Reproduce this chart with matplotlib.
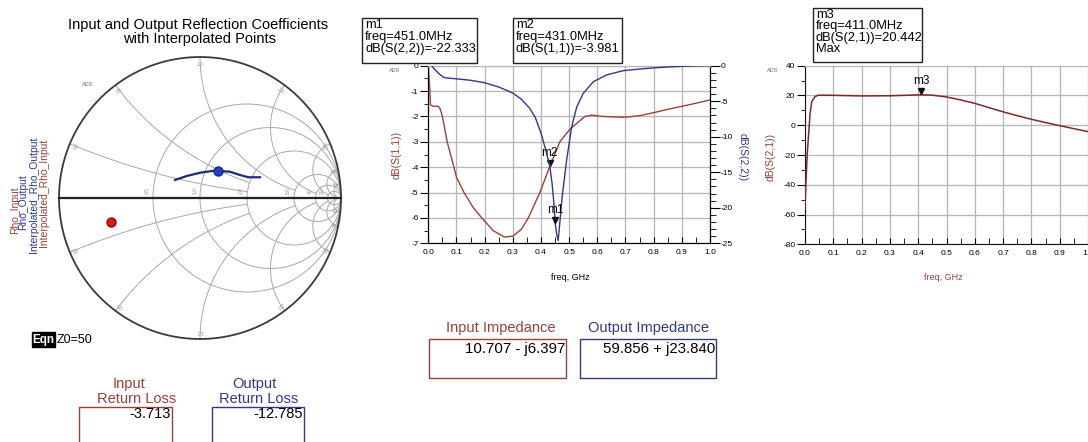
import numpy as np
import matplotlib
matplotlib.use('Agg')
import matplotlib.pyplot as plt
from matplotlib.patches import Rectangle
from matplotlib.ticker import MultipleLocator
import matplotlib.transforms as mtrans

W, H = 1088, 442
plt.rcParams['font.family'] = ['Liberation Sans', 'DejaVu Sans']
plt.rcParams['axes.unicode_minus'] = False

# ---------------- data ----------------
s11_freq = [0.0, 0.004, 0.008, 0.02, 0.035, 0.04, 0.045, 0.05, 0.067, 0.091, 0.10, 0.127,
            0.16, 0.19, 0.23, 0.27, 0.30, 0.33, 0.355, 0.396, 0.431, 0.467, 0.503, 0.556,
            0.58, 0.62, 0.66, 0.70, 0.75, 0.80, 0.85, 0.90, 0.95, 1.0]
s11_db = [0.0, -0.7, -1.55, -1.6, -1.6, -1.65, -1.8, -2.0, -3.0, -4.0, -4.4, -5.0,
          -5.6, -6.0, -6.5, -6.75, -6.72, -6.45, -6.0, -5.0, -3.981, -3.0, -2.5, -2.0,
          -1.95, -2.0, -2.02, -2.03, -1.97, -1.85, -1.72, -1.6, -1.48, -1.35]

s22_freq = [0.012, 0.02, 0.03, 0.04, 0.053, 0.06, 0.10, 0.15, 0.20, 0.25, 0.28, 0.30,
            0.33, 0.36, 0.38, 0.40, 0.415, 0.431, 0.44, 0.445, 0.451, 0.456, 0.461,
            0.466, 0.475, 0.491, 0.509, 0.527, 0.55, 0.586, 0.633, 0.692, 0.75, 0.81,
            0.87, 0.93, 1.0]
s22_db = [0.0, -0.4, -0.8, -1.2, -1.6, -1.7, -1.85, -2.05, -2.4, -3.0, -3.5, -3.85,
          -4.7, -6.0, -7.3, -9.5, -11.6, -14.0, -16.8, -19.0, -22.333, -23.8, -24.6,
          -22.5, -18.5, -13.3, -8.6, -5.8, -3.9, -2.25, -1.3, -0.7, -0.47, -0.28,
          -0.14, -0.05, 0.0]

s21_freq = [0.0, 0.0035, 0.008, 0.013, 0.018, 0.024, 0.035, 0.047, 0.10, 0.20, 0.30,
            0.37, 0.411, 0.45, 0.50, 0.55, 0.60, 0.65, 0.70, 0.75, 0.80, 0.85, 0.90,
            0.95, 1.0]
s21_db = [-56.0, -37.0, -19.0, -5.5, 8.0, 15.8, 19.2, 20.2, 20.1, 19.7, 19.8,
          20.2, 20.442, 20.2, 19.0, 17.0, 14.7, 11.8, 9.0, 6.4, 4.0, 1.8, -0.3,
          -2.3, -4.3]

rho_out_interp_re = [-0.177, -0.094, 0.0, 0.095, 0.130, 0.213, 0.284, 0.343, 0.426]
rho_out_interp_im = [0.128, 0.156, 0.179, 0.193, 0.193, 0.186, 0.163, 0.147, 0.147]

z0 = 50.0
z_in = complex(10.707, -6.397)
z_out = complex(59.856, 23.840)
input_return_loss = -3.713
output_return_loss = -12.785

m1 = dict(name='m1', freq=0.451, val=-22.333)
m2 = dict(name='m2', freq=0.431, val=-3.981)
m3 = dict(name='m3', freq=0.411, val=20.442)

x_ticks = [0.0, 0.1, 0.2, 0.3, 0.4, 0.5, 0.6, 0.7, 0.8, 0.9, 1.0]

RED = '#9c3f38'
NAVY = '#2e3a86'
GRID = '#b5b5b5'

def fx(x):
    return x / W

def fy(y):
    return 1 - y / H

fig = plt.figure(figsize=(W / 100, H / 100), dpi=100)

# ---------------- Smith chart ----------------
cx, cy, R = 200, 198, 141
half = 143
axs = fig.add_axes([fx(cx - half), fy(cy + half), 2 * half / W, 2 * half / H])
lim = half / R
axs.set_xlim(-lim, lim)
axs.set_ylim(-lim, lim)
axs.axis('off')

def gam(z):
    return (z - 1) / (z + 1)

xs_full = np.concatenate([-np.logspace(4, -4, 600), [0.0], np.logspace(-4, 4, 600)])
for r in [0.5, 1.0, 2.0, 5.0, 10.0, 20.0]:
    g = gam(r + 1j * xs_full)
    axs.plot(g.real, g.imag, color='#a8a8a8', lw=0.7)
for xv, rmax in [(0.2, 2.0), (0.5, 2.0), (1.0, 5.0), (2.0, 10.0), (5.0, 20.0), (10.0, 50.0), (20.0, 50.0)]:
    rr = np.concatenate([[0.0], np.logspace(-4, np.log10(rmax), 500)])
    for s in (1, -1):
        g = gam(rr + 1j * s * xv)
        axs.plot(g.real, g.imag, color='#a8a8a8', lw=0.7)
t = np.linspace(0, 2 * np.pi, 600)
axs.plot(np.cos(t), np.sin(t), color='#3a3a3a', lw=1.3)
axs.plot([-1, 1], [0, 0], color='#222222', lw=1.6)

# small grid labels
for r, lab in [(0.5, '0.5'), (1.0, '1.0'), (2.0, '2.0'), (5.0, '5.0'), (10.0, '10'), (20.0, '20')]:
    g = gam(r)
    axs.text(g.real - 0.02, 0.03, lab, fontsize=3.5, color='#909090', rotation=90,
             ha='right', va='bottom')
for xv, lab in [(0.2, '0.2'), (0.5, '0.5'), (1.0, '1.0'), (2.0, '2.0'), (5.0, '5.0'), (10.0, '10'), (20.0, '20')]:
    for s in (1, -1):
        g = gam(1j * s * xv)
        ang = np.degrees(np.arctan2(g.imag, g.real))
        axs.text(g.real * 0.95, g.imag * 0.95, lab, fontsize=3.5, color='#909090',
                 rotation=ang - 90, ha='center', va='center')

axs.plot(rho_out_interp_re, rho_out_interp_im, color='#1f2a78', lw=1.6)
rho_in = (z_in - z0) / (z_in + z0)
rho_out = (z_out - z0) / (z_out + z0)
axs.plot([rho_out.real], [rho_out.imag], 'o', color='#1f3fc8', ms=6.5, mec='#1a2a90')
axs.plot([rho_in.real], [rho_in.imag], 'o', color='#e01515', ms=6.5, mec='#8a1010')

fig.text(fx(198), fy(25), 'Input and Output Reflection Coefficients', fontsize=10.5,
         ha='center', va='center')
fig.text(fx(200), fy(38.5), 'with Interpolated Points', fontsize=10.5, ha='center', va='center')
fig.text(fx(88), fy(85), 'ADS', fontsize=4, color='#707070', ha='center', va='center')

for xp, yp, txt, col in [(15, 210, 'Rho_Input', RED), (23, 202, 'Rho_Output', NAVY),
                         (34, 195, 'Interpolated_Rho_Output', NAVY),
                         (44, 193, 'Interpolated_Rho_Input', RED)]:
    fig.text(fx(xp), fy(yp), txt, fontsize=7.5, color=col, rotation=90,
             ha='center', va='center')

# ---------------- middle plot ----------------
L, Rr, T, B = 428.3, 710, 65.7, 243.3
axm = fig.add_axes([fx(L), fy(B), (Rr - L) / W, (B - T) / H])
axm.plot(s11_freq, s11_db, color=RED, lw=1.0, zorder=3)
axm.set_xlim(0, 1)
axm.set_ylim(-7, 0)
axm.set_xticks(x_ticks)
axm.set_xticklabels(['%.1f' % v for v in x_ticks])
axm.xaxis.set_minor_locator(MultipleLocator(0.05))
axm.yaxis.set_major_locator(MultipleLocator(1))
axm.yaxis.set_minor_locator(MultipleLocator(0.5))
axm.grid(True, which='major', color=GRID, lw=0.9)
axm.tick_params(axis='x', which='both', direction='in', length=4, labelsize=6, pad=4)
axm.tick_params(axis='y', which='major', direction='out', length=6, labelsize=6, pad=1)
axm.tick_params(axis='y', which='minor', direction='out', length=3)
for s in ['left', 'bottom', 'right']:
    axm.spines[s].set_color('#111111')
axm.spines['top'].set_color(GRID)

axr2 = axm.twinx()
axr2.plot(s22_freq, s22_db, color=NAVY, lw=1.0, zorder=3)
axr2.set_ylim(-25, 0)
axr2.yaxis.set_major_locator(MultipleLocator(5))
axr2.yaxis.set_minor_locator(MultipleLocator(1))
axr2.tick_params(axis='y', which='major', direction='out', length=7, labelsize=6, pad=1)
axr2.tick_params(axis='y', which='minor', direction='out', length=4)
axr2.spines['top'].set_color(GRID)

up3 = mtrans.offset_copy(axm.transData, fig=fig, x=0, y=3, units='points')
up3r = mtrans.offset_copy(axr2.transData, fig=fig, x=0, y=3, units='points')
axm.plot([m2['freq']], [m2['val']], 'v', color='#111111', ms=5, transform=up3, zorder=5)
axm.annotate(m2['name'], (m2['freq'], m2['val']), xytext=(0, 10), textcoords='offset points',
             ha='center', va='center', fontsize=8.5)
axr2.plot([m1['freq']], [m1['val']], 'v', color='#111111', ms=5, transform=up3r, zorder=5)
axr2.annotate(m1['name'], (m1['freq'], m1['val']), xytext=(0, 10), textcoords='offset points',
              ha='center', va='center', fontsize=8.5)

fig.text(fx(397), fy(155), 'dB(S(1,1))', fontsize=7.5, color=RED, rotation=90,
         ha='center', va='center')
fig.text(fx(743), fy(157), 'dB(S(2,2))', fontsize=7.5, color=NAVY, rotation=270,
         ha='center', va='center')
fig.text(fx(570), fy(277), 'freq, GHz', fontsize=6.5, ha='center', va='center')
fig.text(fx(395), fy(70.5), 'ADS', fontsize=4, color='#707070', ha='center', va='center')

# ---------------- right plot ----------------
L3, R3, T3, B3 = 805, 1088, 65.7, 244.3
ax3 = fig.add_axes([fx(L3), fy(B3), (R3 - L3) / W, (B3 - T3) / H])
ax3.plot(s21_freq, s21_db, color='#7a2a28', lw=1.1, zorder=3)
ax3.set_xlim(0, 1)
ax3.set_ylim(-80, 40)
ax3.set_xticks(x_ticks)
ax3.set_xticklabels(['%.1f' % v for v in x_ticks])
ax3.xaxis.set_minor_locator(MultipleLocator(0.05))
ax3.yaxis.set_major_locator(MultipleLocator(20))
ax3.yaxis.set_minor_locator(MultipleLocator(10))
ax3.grid(True, which='major', color=GRID, lw=0.9)
ax3.tick_params(axis='x', which='both', direction='in', length=4, labelsize=6, pad=4)
ax3.tick_params(axis='y', which='major', direction='out', length=6, labelsize=6, pad=1)
ax3.tick_params(axis='y', which='minor', direction='out', length=3)
ax3.spines['right'].set_visible(False)
ax3.spines['top'].set_color(GRID)
for s in ['left', 'bottom']:
    ax3.spines[s].set_color('#111111')
up3b = mtrans.offset_copy(ax3.transData, fig=fig, x=0, y=3, units='points')
ax3.plot([m3['freq']], [m3['val']], 'v', color='#111111', ms=5, transform=up3b, zorder=5)
ax3.annotate(m3['name'], (m3['freq'], m3['val']), xytext=(0, 10), textcoords='offset points',
             ha='center', va='center', fontsize=8.5)
fig.text(fx(771), fy(157), 'dB(S(2,1))', fontsize=7.5, color=RED, rotation=90,
         ha='center', va='center')
fig.text(fx(943), fy(277), 'freq, GHz', fontsize=6.5, color=RED, ha='center', va='center')
fig.text(fx(773), fy(70), 'ADS', fontsize=4, color='#707070', ha='center', va='center')

# ---------------- marker boxes ----------------
def box(x0, y0, x1, y1, ec='#222222', lw=1.0):
    fig.patches.append(Rectangle((fx(x0), fy(y1)), (x1 - x0) / W, (y1 - y0) / H,
                                 transform=fig.transFigure, fill=False, ec=ec, lw=lw))

box(362, 18, 477, 63)
fig.text(fx(365), fy(19), 'm1\nfreq=%.1fMHz\ndB(S(2,2))=%.3f' % (m1['freq'] * 1000, m1['val']),
         fontsize=9.3, ha='left', va='top', linespacing=1.0)
box(513, 18, 622, 63)
fig.text(fx(516), fy(19), 'm2\nfreq=%.1fMHz\ndB(S(1,1))=%.3f' % (m2['freq'] * 1000, m2['val']),
         fontsize=9.3, ha='left', va='top', linespacing=1.0)
box(813, 8, 922, 62)
fig.text(fx(816), fy(9), 'm3\nfreq=%.1fMHz\ndB(S(2,1))=%.3f\nMax' % (m3['freq'] * 1000, m3['val']),
         fontsize=9.3, ha='left', va='top', linespacing=0.93)

# ---------------- equation & readouts ----------------
fig.patches.append(Rectangle((fx(32), fy(347)), 23 / W, 15 / H, transform=fig.transFigure,
                             fc='black', ec='black'))
fig.text(fx(43.5), fy(340), 'Eqn', fontsize=8.5, color='white', ha='center', va='center',
         fontweight='bold')
fig.text(fx(57), fy(340), 'Z0=%d' % z0, fontsize=9, ha='left', va='center')

fig.text(fx(129), fy(384), 'Input', fontsize=10.5, color=RED, ha='center', va='center')
fig.text(fx(136.5), fy(399), 'Return Loss', fontsize=10.5, color=RED, ha='center', va='center')
box(79, 407, 172, 450, ec=RED)
fig.text(fx(171), fy(407), '%.3f' % input_return_loss, fontsize=10.5, ha='right', va='top')

fig.text(fx(254), fy(384), 'Output', fontsize=10.5, color=NAVY, ha='center', va='center')
fig.text(fx(259), fy(399), 'Return Loss', fontsize=10.5, color=NAVY, ha='center', va='center')
box(212, 407, 304, 450, ec=NAVY)
fig.text(fx(303), fy(407), '%.3f' % output_return_loss, fontsize=10.5, ha='right', va='top')

def zstr(z):
    sign = '+' if z.imag >= 0 else '-'
    return '%.3f %s j%.3f' % (z.real, sign, abs(z.imag))

fig.text(fx(501), fy(328), 'Input Impedance', fontsize=10.5, color=RED, ha='center', va='center')
box(429, 339, 566, 378, ec=RED)
fig.text(fx(565), fy(349), zstr(z_in), fontsize=10.8, ha='right', va='center')
fig.text(fx(648), fy(328), 'Output Impedance', fontsize=10.5, color=NAVY, ha='center', va='center')
box(580, 339, 716, 378, ec=NAVY)
fig.text(fx(715), fy(349), zstr(z_out), fontsize=10.8, ha='right', va='center')

fig.savefig('out.png', dpi=100)
